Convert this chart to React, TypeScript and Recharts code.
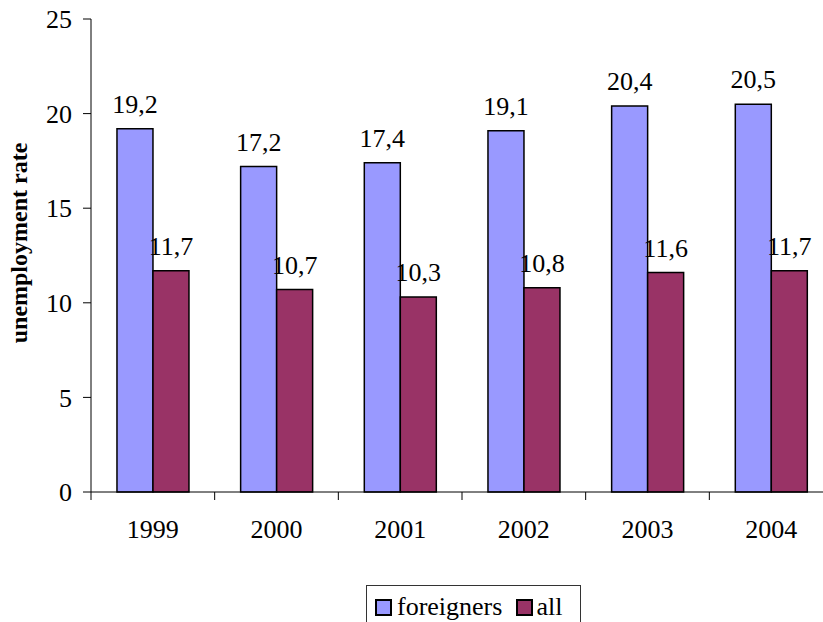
import { BarChart, Bar, XAxis, YAxis, Legend, LabelList, Label } from "recharts";

const years = ["1999", "2000", "2001", "2002", "2003", "2004"];
const foreigners = [19.2, 17.2, 17.4, 19.1, 20.4, 20.5];
const all = [11.7, 10.7, 10.3, 10.8, 11.6, 11.7];
const yTicks = [0, 5, 10, 15, 20, 25];

const FONT = "Liberation Serif, DejaVu Serif, serif";
const BLUE = "#9999FF";
const PLUM = "#993366";

const data = years.map((year, i) => ({
  year,
  foreigners: foreigners[i],
  all: all[i],
}));

// comma as decimal separator, like the original
const fmt = (v: any) => String(v).replace(".", ",");

// Excel style: tick marks sit on category boundaries, label at the centre
const XTick = (props: any) => {
  const { x, y, payload } = props;
  const band = 742 / years.length;
  return (
    <g>
      <line x1={x - band / 2} y1={y} x2={x - band / 2} y2={y + 8} stroke="#000" />
      <text x={x} y={y + 46} textAnchor="middle" style={{ fontSize: 26, fontFamily: FONT }} fill="#000">
        {payload.value}
      </text>
    </g>
  );
};

const LegendBox = () => (
  <div
    style={{
      border: "1px solid #333",
      background: "#fff",
      display: "flex",
      alignItems: "center",
      height: 44,
      paddingLeft: 8,
      fontFamily: FONT,
      fontSize: 26,
      color: "#000",
      boxSizing: "border-box",
    }}
  >
    <span style={{ width: 13, height: 13, background: BLUE, border: "2px solid #000", marginRight: 5 }} />
    <span style={{ marginRight: 14 }}>foreigners</span>
    <span style={{ width: 13, height: 13, background: PLUM, border: "2px solid #000", marginRight: 3 }} />
    <span>all</span>
  </div>
);

export default function App() {
  return (
    <div style={{ position: "fixed", left: 0, top: 0, width: 823, height: 622, overflow: "hidden", background: "#fff", fontFamily: FONT }}>
      <BarChart
        width={840}
        height={622}
        data={data}
        margin={{ top: 19, right: 7, left: 0, bottom: 0 }}
        barCategoryGap="21%"
        barGap={0}
        style={{ fontFamily: FONT }}
      >
        <XAxis
          dataKey="year"
          height={130}
          axisLine={{ stroke: "#000" }}
          tickLine={false}
          tickSize={0}
          tickMargin={0}
          tick={<XTick />}
          interval={0}
        />
        <YAxis
          width={91}
          domain={[0, 25]}
          ticks={yTicks}
          interval={0}
          axisLine={{ stroke: "#000" }}
          tickLine={{ stroke: "#000" }}
          tickSize={8}
          tickMargin={11}
          tick={{ fontSize: 26, fill: "#000", style: { fontFamily: FONT } }}
        >
          <Label
            content={() => (
              <text
                transform="translate(19,243) rotate(-90)"
                textAnchor="middle"
                dominantBaseline="central"
                style={{ fontSize: 24, fontWeight: "bold", fontFamily: FONT }}
                fill="#000"
              >
                unemployment rate
              </text>
            )}
          />
        </YAxis>
        <Legend
          layout="horizontal"
          verticalAlign="middle"
          content={<LegendBox />}
          wrapperStyle={{ left: 366, top: 585, width: 215, height: 44 }}
        />
        <Bar dataKey="foreigners" fill={BLUE} stroke="#000" strokeWidth={1.5} isAnimationActive={false}>
          <LabelList dataKey="foreigners" position="top" offset={16} formatter={fmt} fontSize={26} fill="#000" style={{ fontFamily: FONT }} />
        </Bar>
        <Bar dataKey="all" fill={PLUM} stroke="#000" strokeWidth={1.5} isAnimationActive={false}>
          <LabelList dataKey="all" position="top" offset={16} formatter={fmt} fontSize={26} fill="#000" style={{ fontFamily: FONT }} />
        </Bar>
      </BarChart>
    </div>
  );
}
